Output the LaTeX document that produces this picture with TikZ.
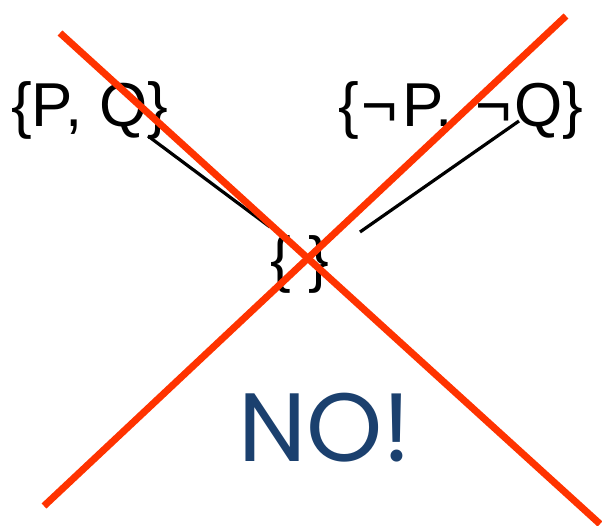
\documentclass[tikz,border=0pt]{standalone}
\usepackage{fontspec}
\setmainfont{Liberation Sans}
\newfontfamily\nofont{Poppins}
\definecolor{crossred}{RGB}{255,51,0}
\definecolor{noblue}{RGB}{27,64,110}
\begin{document}
\begin{tikzpicture}[x=1pt,y=-1pt,
  settext/.style={inner sep=0pt,anchor=base west,font=\fontsize{62}{62}\selectfont},
  link/.style={line width=3.2pt,black},
  cross/.style={line width=7pt,crossred}]
\useasboundingbox (0,0) rectangle (602,526);
\node[settext] (pq) at (11,127) {\{P, Q\}};
\node[settext] (npq) at (338,127) {\{\kern3pt¬\kern4ptP,\kern3pt\ \kern3pt¬\kern2ptQ\}};
\node[settext] (empty) at (270,281) {\{ \}};
\node[inner sep=0pt,anchor=base west,text=noblue,font=\nofont\fontsize{97}{97}\selectfont] (no) at (238,461) {NO!};
\coordinate (l1a) at (148,136);
\coordinate (l1b) at (270,227);
\coordinate (l2a) at (360,232);
\coordinate (l2b) at (519,121);
\draw[link] (l1a) -- (l1b);
\draw[link] (l2a) -- (l2b);
\coordinate (c1a) at (60,33);
\coordinate (c1b) at (600,524);
\coordinate (c2a) at (566,16);
\coordinate (c2b) at (44,506);
\draw[cross] (c1a) -- (c1b);
\draw[cross] (c2a) -- (c2b);
\end{tikzpicture}
\end{document}
